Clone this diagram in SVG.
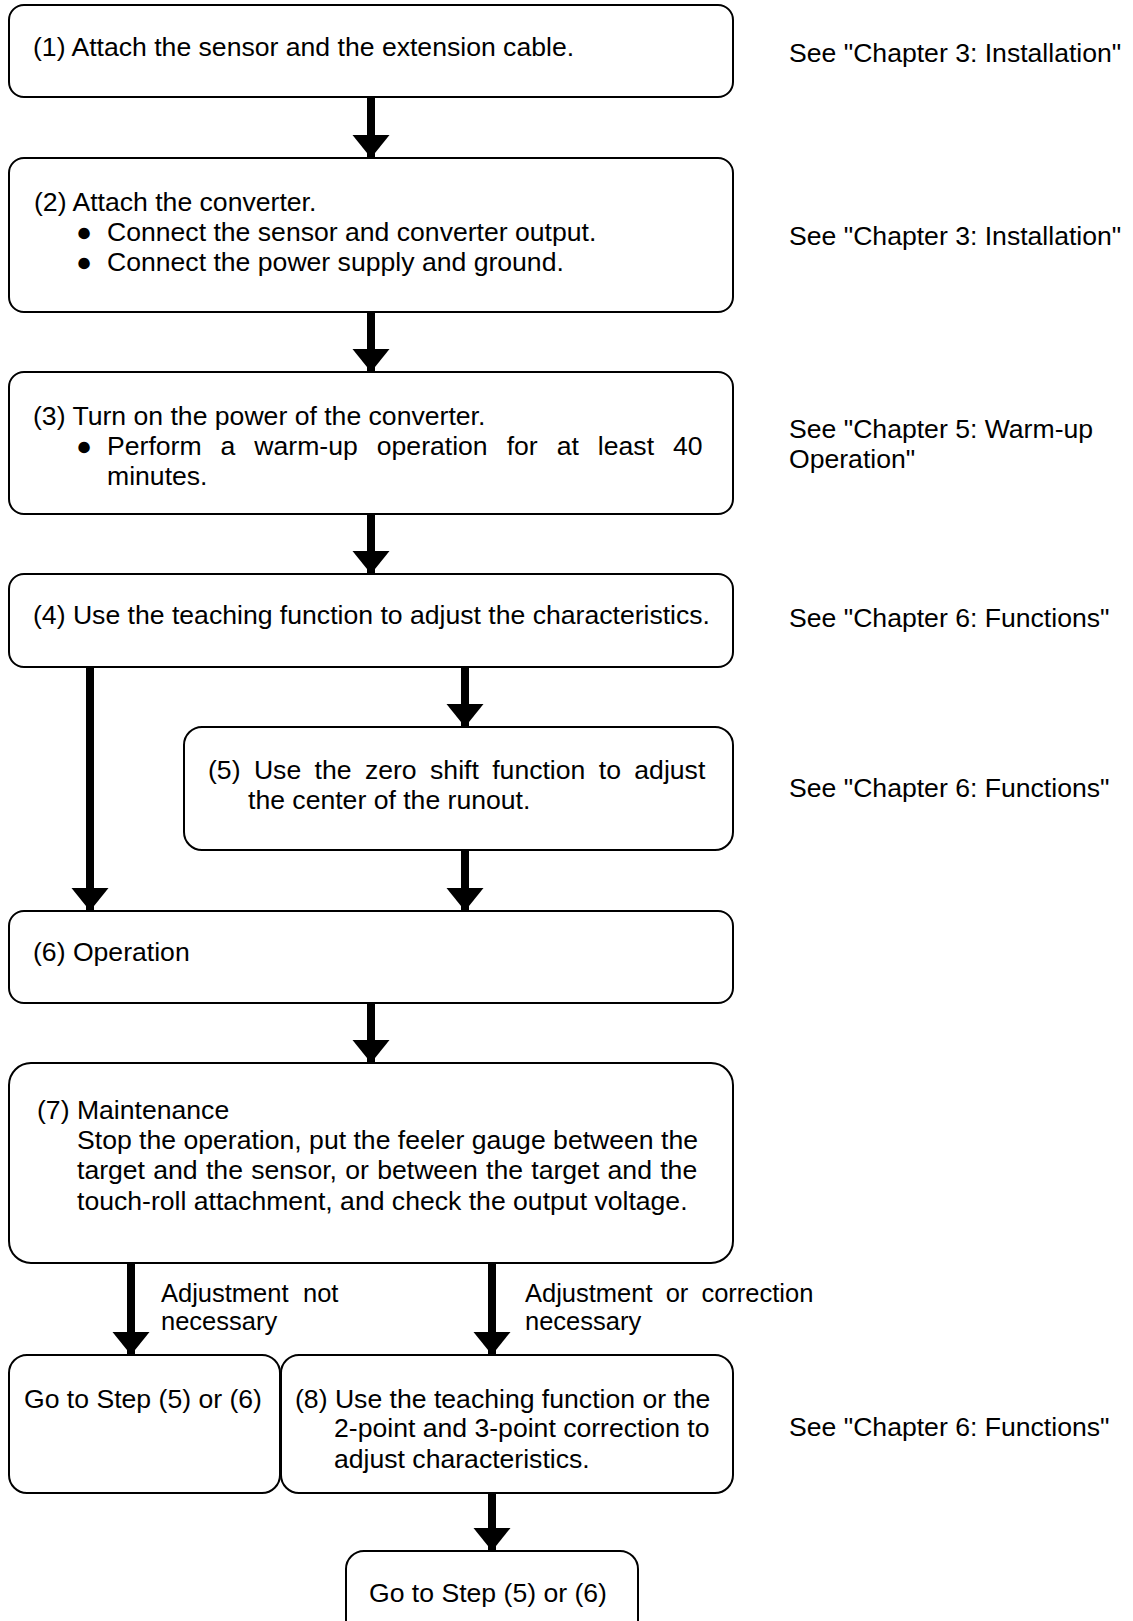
<svg xmlns="http://www.w3.org/2000/svg" width="1133" height="1621" viewBox="0 0 1133 1621">
<style>
.box{fill:#fff;stroke:#000;stroke-width:2}
.t{font-family:"Liberation Sans",Arial,sans-serif;font-size:26.6px;fill:#000}
.l{font-family:"Liberation Sans",Arial,sans-serif;font-size:25.5px;fill:#000}
.b{font-size:26.6px}
.c{stroke:#000;stroke-width:8;fill:none}
</style>
<defs>
<marker id="ah" markerUnits="userSpaceOnUse" viewBox="0 -19 23 38" refX="23" refY="0" markerWidth="23" markerHeight="38" orient="auto">
<path d="M0,-18.5 L23,0 L0,18.5 Z" fill="#000"/>
</marker>
</defs>
<rect width="1133" height="1621" fill="#fff"/>
<g id="connectors">
<line class="c" x1="371" y1="97" x2="371" y2="158" marker-end="url(#ah)"/>
<line class="c" x1="371" y1="312" x2="371" y2="372" marker-end="url(#ah)"/>
<line class="c" x1="371" y1="514" x2="371" y2="574" marker-end="url(#ah)"/>
<line class="c" x1="90" y1="667" x2="90" y2="911" marker-end="url(#ah)"/>
<line class="c" x1="465" y1="667" x2="465" y2="727" marker-end="url(#ah)"/>
<line class="c" x1="465" y1="850" x2="465" y2="911" marker-end="url(#ah)"/>
<line class="c" x1="371" y1="1003" x2="371" y2="1063" marker-end="url(#ah)"/>
<line class="c" x1="131" y1="1263" x2="131" y2="1355" marker-end="url(#ah)"/>
<line class="c" x1="492" y1="1263" x2="492" y2="1355" marker-end="url(#ah)"/>
<line class="c" x1="492" y1="1493" x2="492" y2="1551" marker-end="url(#ah)"/>
<text class="l" x="161" y="1302">Adjustment<tspan x="303">not</tspan></text>
<text class="l" x="161" y="1330">necessary</text>
<text class="l" x="525" y="1302" word-spacing="6">Adjustment or correction</text>
<text class="l" x="525" y="1330">necessary</text>
</g>
<g id="node1">
<rect class="box" x="9" y="5" width="724" height="92" rx="15"/>
<text class="t" x="33" y="56">(1) Attach the sensor and the extension cable.</text>
<text class="t" x="789" y="62">See "Chapter 3: Installation"</text>
</g>
<g id="node2">
<rect class="box" x="9" y="158" width="724" height="154" rx="15"/>
<text class="t" x="34" y="211">(2) Attach the converter.</text>
<text class="t" y="241"><tspan class="b" x="76">●</tspan><tspan x="107">Connect the sensor and converter output.</tspan></text>
<text class="t" y="271"><tspan class="b" x="76">●</tspan><tspan x="107">Connect the power supply and ground.</tspan></text>
<text class="t" x="789" y="245">See "Chapter 3: Installation"</text>
</g>
<g id="node3">
<rect class="box" x="9" y="372" width="724" height="142" rx="15"/>
<text class="t" x="33" y="425">(3) Turn on the power of the converter.</text>
<text class="t" y="455"><tspan class="b" x="76">●</tspan><tspan x="107" word-spacing="11.6">Perform a warm-up operation for at least 40</tspan></text>
<text class="t" x="107" y="485">minutes.</text>
<text class="t" x="789" y="438">See "Chapter 5: Warm-up</text>
<text class="t" x="789" y="468">Operation"</text>
</g>
<g id="node4">
<rect class="box" x="9" y="574" width="724" height="93" rx="15"/>
<text class="t" x="33" y="624">(4) Use the teaching function to adjust the characteristics.</text>
<text class="t" x="789" y="627">See "Chapter 6: Functions"</text>
</g>
<g id="node5">
<rect class="box" x="184" y="727" width="549" height="123" rx="18"/>
<text class="t" x="208" y="779" word-spacing="6">(5) Use the zero shift function to adjust</text>
<text class="t" x="248" y="809">the center of the runout.</text>
<text class="t" x="789" y="797">See "Chapter 6: Functions"</text>
</g>
<g id="node6">
<rect class="box" x="9" y="911" width="724" height="92" rx="15"/>
<text class="t" x="33" y="961">(6) Operation</text>
</g>
<g id="node7">
<rect class="box" x="9" y="1063" width="724" height="200" rx="22"/>
<text class="t" x="37" y="1119">(7) Maintenance</text>
<text class="t" x="77" y="1149">Stop the operation, put the feeler gauge between the</text>
<text class="t" x="77" y="1179" word-spacing="0.9">target and the sensor, or between the target and the</text>
<text class="t" x="77" y="1210">touch-roll attachment, and check the output voltage.</text>
</g>
<g id="node9">
<rect class="box" x="9" y="1355" width="271" height="138" rx="18"/>
<text class="t" x="24" y="1408">Go to Step (5) or (6)</text>
</g>
<g id="node8">
<rect class="box" x="281" y="1355" width="452" height="138" rx="18"/>
<text class="t" x="295" y="1408">(8) Use the teaching function or the</text>
<text class="t" x="334" y="1437">2-point and 3-point correction to</text>
<text class="t" x="334" y="1468">adjust characteristics.</text>
<text class="t" x="789" y="1436">See "Chapter 6: Functions"</text>
</g>
<g id="node10">
<rect class="box" x="346" y="1551" width="292" height="120" rx="18"/>
<text class="t" x="369" y="1602">Go to Step (5) or (6)</text>
</g>
</svg>
